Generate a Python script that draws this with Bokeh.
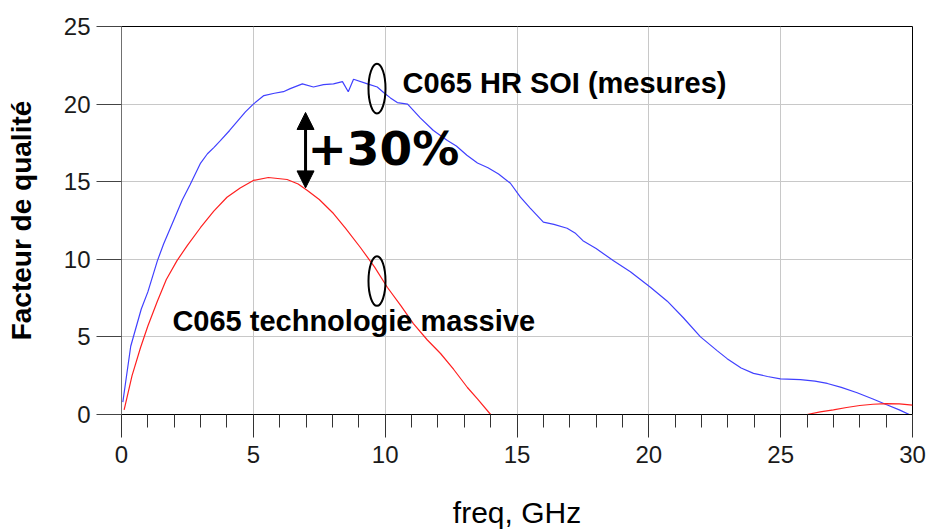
from bokeh.plotting import figure
from bokeh.models import Range1d, FixedTicker, Label, Arrow, NormalHead
from bokeh.embed import file_html
from bokeh.resources import INLINE

# --- data -------------------------------------------------------------
soi_freq = [0.05, 0.15, 0.35, 0.5, 0.75, 1.0, 1.36, 1.6, 2.0, 2.3, 2.6, 3.0, 3.26, 3.5,
            3.75, 4.1, 4.4, 4.7, 5.0, 5.4, 5.8, 6.14, 6.4, 6.86, 7.28, 7.66, 8.04, 8.38,
            8.6, 8.8, 9.33, 9.7, 9.94, 10.2, 10.46, 10.85, 11.34, 11.83, 12.36, 12.7,
            13.1, 13.5, 13.9, 14.3, 14.75, 15.13, 15.5, 16.0, 16.4, 16.9, 17.2, 17.5,
            18.0, 18.66, 19.3, 20.06, 20.7, 21.3, 21.96, 22.6, 22.97, 23.5, 23.97, 24.5,
            24.99, 25.75, 26.3, 26.77, 27.3, 27.9, 28.5, 29.0, 29.5, 30.0]
soi_q = [0.8, 2.0, 4.4, 5.3, 6.8, 7.9, 9.9, 11.0, 12.6, 13.8, 14.8, 16.2, 16.8, 17.2,
         17.65, 18.3, 18.9, 19.5, 20.0, 20.55, 20.7, 20.8, 21.0, 21.3, 21.1, 21.25, 21.3, 21.45,
         20.8, 21.6, 21.3, 21.1, 20.75, 20.4, 20.1, 20.0, 19.1, 18.3, 17.65, 17.3,
         16.7, 16.2, 15.9, 15.5, 14.9, 14.0, 13.3, 12.4, 12.25, 12.0, 11.7, 11.2,
         10.7, 9.9, 9.2, 8.2, 7.3, 6.25, 5.0, 4.1, 3.6, 3.0, 2.65, 2.45,
         2.3, 2.25, 2.15, 2.0, 1.75, 1.4, 1.0, 0.64, 0.3, -0.1]

bulk_freq = [0.1, 0.4, 0.72, 1.0, 1.36, 1.7, 2.1, 2.5, 3.0, 3.5, 4.0, 4.5, 5.0, 5.57,
             6.28, 6.7, 7.05, 7.5, 8.04, 8.5, 9.06, 9.6, 10.08, 10.6, 11.07, 11.6, 12.1,
             12.6, 13.12, 13.5, 14.0, 20.0,
             26.0, 26.5, 27.0, 27.5, 28.0, 28.5, 29.0, 29.5, 30.0]
bulk_q = [0.3, 2.5, 4.3, 5.7, 7.3, 8.7, 9.9, 10.9, 12.05, 13.1, 14.0, 14.6, 15.08, 15.27,
          15.14, 14.85, 14.43, 13.85, 12.95, 12.0, 10.76, 9.5, 8.2, 7.0, 5.86, 4.8, 3.93,
          2.9, 1.74, 1.0, 0.0, float("nan"),
          0.0, 0.17, 0.3, 0.45, 0.58, 0.66, 0.7, 0.68, 0.6]

x_ticks = [0, 5, 10, 15, 20, 25, 30]
x_minor = list(range(0, 31))
y_ticks = [0, 5, 10, 15, 20, 25]

x_title = "freq, GHz"
y_title = "Facteur de qualité"
label_soi = "C065 HR SOI (mesures)"
label_bulk = "C065 technologie massive"
label_gain = "+30%"

# --- figure -----------------------------------------------------------
p = figure(width=927, height=532, x_range=Range1d(0, 30), y_range=Range1d(0, 25),
           output_backend="svg", toolbar_location=None,
           min_border_left=121, min_border_right=15, min_border_top=26, min_border_bottom=118)
p.background_fill_color = "white"
p.border_fill_color = "white"
p.outline_line_color = "black"
p.outline_line_width = 1

p.xaxis.ticker = FixedTicker(ticks=x_ticks, minor_ticks=x_minor)
p.yaxis.ticker = FixedTicker(ticks=y_ticks, minor_ticks=[])
p.xgrid.ticker = FixedTicker(ticks=x_ticks)
p.ygrid.ticker = FixedTicker(ticks=y_ticks)
for g in (p.xgrid, p.ygrid):
    g.grid_line_color = "#c8c8c8"
    g.grid_line_width = 1

p.xaxis.axis_label = x_title
p.yaxis.axis_label = y_title

for ax in (p.xaxis, p.yaxis):
    ax.major_label_text_font = "Liberation Sans"
    ax.major_label_text_font_size = "24px"
    ax.major_label_text_color = "#1a1a1a"
    ax.axis_label_text_font = "Liberation Sans"
    ax.axis_label_text_color = "black"
    ax.major_tick_in = 0
    ax.minor_tick_in = 0

p.xaxis.axis_line_color = "black"
p.xaxis.major_tick_line_color = "#333333"
p.xaxis.minor_tick_line_color = "#333333"
p.xaxis.major_tick_out = 23
p.xaxis.minor_tick_out = 13
p.xaxis.major_label_standoff = 8
p.xaxis.axis_label_text_font_size = "30px"
p.xaxis.axis_label_text_font_style = "normal"
p.xaxis.axis_label_standoff = 30

p.yaxis.axis_line_color = "#707070"
p.yaxis.major_tick_line_color = "#444444"
p.yaxis.major_tick_out = 25
p.yaxis.major_label_standoff = 6
p.yaxis.axis_label_text_font_size = "28px"
p.yaxis.axis_label_text_font_style = "bold"
p.yaxis.axis_label_standoff = 24

# curves
p.line(soi_freq, soi_q, line_color="#4040ff", line_width=1.2)
p.line(bulk_freq, bulk_q, line_color="#ff2020", line_width=1.2)

# annotations
p.ellipse(x=[9.69, 9.69], y=[21.0, 8.6], width=0.645, height=3.2,
          fill_color=None, line_color="black", line_width=2)

p.add_layout(Arrow(x_start=6.98, y_start=14.6, x_end=6.98, y_end=19.46,
                   start=NormalHead(size=17, fill_color="black", line_color="black"),
                   end=NormalHead(size=17, fill_color="black", line_color="black"),
                   line_width=3, line_color="black"))

p.add_layout(Label(x=7.05, y=17.14, text=label_gain, text_font="DejaVu Sans",
                   text_font_size="47px", text_font_style="bold", text_color="black",
                   text_baseline="alphabetic"))
p.add_layout(Label(x=10.66, y=21.39, text=label_soi, text_font="Liberation Sans",
                   text_font_size="29px", text_font_style="bold", text_color="black",
                   text_baseline="alphabetic"))
p.add_layout(Label(x=1.93, y=6.05, text=label_bulk, text_font="Liberation Sans",
                   text_font_size="29px", text_font_style="bold", text_color="black",
                   text_baseline="alphabetic"))

open("out.html", "w").write(file_html(p, INLINE))
